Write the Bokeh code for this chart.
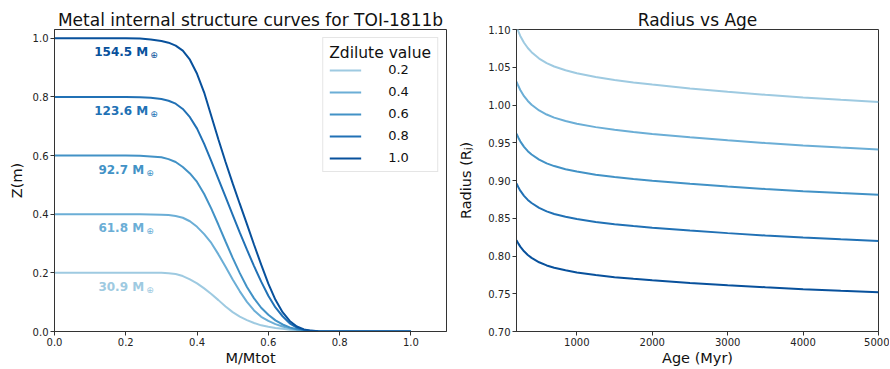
from bokeh.plotting import figure
from bokeh.layouts import row
from bokeh.models import Range1d, FixedTicker, NumeralTickFormatter, Legend, LegendItem
from bokeh.core.properties import value
from bokeh.embed import file_html
from bokeh.resources import INLINE

# ---------------- data ----------------
zdil_values = ["0.2", "0.4", "0.6", "0.8", "1.0"]
zdil_levels = [0.2, 0.4, 0.6, 0.8, 1.0]
colors = ["#9ecae1", "#6baed6", "#4292c6", "#2171b5", "#08519c"]
mass_labels = ["30.9", "61.8", "92.7", "123.6", "154.5"]

m_grid = [0.0, 0.20, 0.24, 0.27, 0.30, 0.32, 0.34, 0.36, 0.38, 0.40, 0.42, 0.44,
          0.46, 0.48, 0.50, 0.52, 0.54, 0.56, 0.58, 0.60, 0.62, 0.64, 0.66, 0.68,
          0.70, 0.72, 0.74, 0.77, 0.80, 1.0]
z_02 = [0.2, 0.2, 0.2, 0.2, 0.2, 0.199, 0.196, 0.189, 0.178, 0.164, 0.147, 0.128,
        0.107, 0.085, 0.066, 0.051, 0.039, 0.029, 0.021, 0.016, 0.012, 0.009, 0.006, 0.004,
        0.002, 0.001, 0.0, 0.0, 0.0, 0.0]
z_04 = [0.4, 0.4, 0.4, 0.399, 0.398, 0.397, 0.394, 0.388, 0.376, 0.357, 0.332, 0.302,
        0.263, 0.221, 0.177, 0.137, 0.101, 0.072, 0.050, 0.036, 0.025, 0.017, 0.011, 0.006,
        0.003, 0.001, 0.0, 0.0, 0.0, 0.0]
z_06 = [0.6, 0.6, 0.599, 0.597, 0.594, 0.588, 0.578, 0.561, 0.539, 0.510, 0.469, 0.419,
        0.364, 0.307, 0.251, 0.199, 0.152, 0.113, 0.081, 0.057, 0.038, 0.024, 0.014, 0.008,
        0.004, 0.002, 0.001, 0.0, 0.0, 0.0]
z_08 = [0.8, 0.8, 0.799, 0.797, 0.793, 0.787, 0.777, 0.759, 0.731, 0.692, 0.640, 0.581,
        0.520, 0.459, 0.398, 0.337, 0.279, 0.223, 0.170, 0.122, 0.082, 0.052, 0.028, 0.013,
        0.005, 0.002, 0.001, 0.0, 0.0, 0.0]
z_10 = [1.0, 1.0, 0.999, 0.996, 0.991, 0.985, 0.975, 0.958, 0.927, 0.879, 0.815, 0.735,
        0.655, 0.578, 0.505, 0.435, 0.366, 0.296, 0.228, 0.163, 0.108, 0.066, 0.036, 0.017,
        0.007, 0.003, 0.001, 0.0, 0.0, 0.0]
z_curves = [z_02, z_04, z_06, z_08, z_10]

ages = [200, 225, 250, 300, 350, 400, 500, 600, 700, 850, 1000, 1250, 1500, 1750, 2000,
        2500, 3000, 3500, 4000, 4500, 5000]
r_02 = [1.104, 1.0974, 1.0915, 1.0825, 1.0755, 1.0700, 1.0615, 1.0555, 1.0510, 1.0460, 1.0420,
        1.0370, 1.0330, 1.0298, 1.0270, 1.0220, 1.0175, 1.0135, 1.0100, 1.0069, 1.0040]
r_04 = [1.031, 1.0251, 1.0198, 1.0117, 1.0054, 1.0004, 0.9928, 0.9874, 0.9833, 0.9788, 0.9752,
        0.9707, 0.9671, 0.9642, 0.9617, 0.9572, 0.9532, 0.9496, 0.9464, 0.9436, 0.9410]
r_06 = [0.962, 0.9567, 0.9519, 0.9446, 0.9389, 0.9345, 0.9276, 0.9227, 0.9191, 0.9150, 0.9118,
        0.9077, 0.9045, 0.9019, 0.8996, 0.8956, 0.8919, 0.8887, 0.8859, 0.8833, 0.8810]
r_08 = [0.896, 0.8910, 0.8865, 0.8797, 0.8743, 0.8702, 0.8637, 0.8591, 0.8557, 0.8519, 0.8489,
        0.8451, 0.8420, 0.8396, 0.8375, 0.8337, 0.8303, 0.8272, 0.8246, 0.8222, 0.8200]
r_10 = [0.821, 0.8164, 0.8124, 0.8062, 0.8013, 0.7975, 0.7917, 0.7875, 0.7844, 0.7810, 0.7782,
        0.7748, 0.7720, 0.7698, 0.7679, 0.7644, 0.7613, 0.7586, 0.7561, 0.7540, 0.7520]
r_curves = [r_02, r_04, r_06, r_08, r_10]

left_xticks = [0.0, 0.2, 0.4, 0.6, 0.8, 1.0]
left_yticks = [0.0, 0.2, 0.4, 0.6, 0.8, 1.0]
right_xticks = [1000, 2000, 3000, 4000, 5000]
right_yticks = [0.70, 0.75, 0.80, 0.85, 0.90, 0.95, 1.00, 1.05, 1.10]

FONT = "DejaVu Sans"
AX = "#333333"


def style(p):
    p.xgrid.visible = False
    p.ygrid.visible = False
    p.outline_line_color = AX
    p.outline_line_width = 1
    p.outline_line_alpha = 1
    p.background_fill_color = "white"
    p.border_fill_color = "white"
    p.title.text_font = FONT
    p.title.text_font_size = "17px"
    p.title.text_font_style = "normal"
    p.title.align = "center"
    p.title.text_color = "#111111"
    p.title.standoff = 0
    p.title.offset = 0
    for ax in (p.xaxis[0], p.yaxis[0]):
        ax.axis_line_color = AX
        ax.major_tick_line_color = AX
        ax.major_tick_out = 4
        ax.major_tick_in = 0
        ax.minor_tick_line_color = None
        ax.major_label_text_font = FONT
        ax.major_label_text_font_size = "10px"
        ax.major_label_text_color = "#222222"
        ax.major_label_standoff = 2
        ax.axis_label_text_font = FONT
        ax.axis_label_text_font_size = "14.5px"
        ax.axis_label_text_font_style = "normal"
        ax.axis_label_text_color = "#111111"


H = 368

# ---------------- left figure ----------------
p1 = figure(width=455, height=H, output_backend="svg", toolbar_location=None,
            x_range=Range1d(0, 1.1), y_range=Range1d(0, 1.03),
            title="Metal internal structure curves for TOI-1811b",
            min_border_left=54, min_border_right=9, min_border_top=29, min_border_bottom=37)
style(p1)
p1.xaxis.axis_label = "M/Mtot"
p1.yaxis.axis_label = "Z(m)"
p1.xaxis.ticker = FixedTicker(ticks=left_xticks)
p1.yaxis.ticker = FixedTicker(ticks=left_yticks)
p1.xaxis.formatter = NumeralTickFormatter(format="0.0")
p1.yaxis.formatter = NumeralTickFormatter(format="0.0")
p1.xaxis.axis_label_standoff = 1
p1.yaxis.axis_label_standoff = 5

items = []
for lab, z, c in zip(zdil_values, z_curves, colors):
    r = p1.line(m_grid, z, line_color=c, line_width=2)
    items.append(LegendItem(label=lab, renderers=[r]))

# mass annotations ("xxx M" bold + small subscript earth symbol)
ADV = {"d": 0.696, ".": 0.380}
for lev, lab, c in zip(zdil_levels, mass_labels, colors):
    main = lab + " M"
    w = 12 * (sum(ADV["d"] if ch.isdigit() else ADV["."] for ch in lab) + 0.348 + 0.995)
    total = w + 2 + 7
    p1.text(x=[0.2], y=[lev - 0.048], text=[main], text_color=c,
            text_font=value(FONT), text_font_size="12px", text_font_style="bold",
            text_align="left", text_baseline="middle", x_offset=-total / 2)
    p1.text(x=[0.2], y=[lev - 0.048], text=["\u2295"], text_color=c,
            text_font=value(FONT), text_font_size="9px",
            text_align="left", text_baseline="middle", x_offset=-total / 2 + w + 2,
            y_offset=3)

legend = Legend(items=items, location="top_right", title="Zdilute value",
                title_text_font=FONT, title_text_font_size="15.5px",
                title_text_font_style="normal", title_text_color="#111111",
                title_standoff=0,
                label_text_font=FONT, label_text_font_size="13px", label_text_color="#111111",
                glyph_width=32, glyph_height=14, label_height=14, spacing=7,
                label_standoff=27, padding=6, margin=8,
                border_line_color="#cccccc", border_line_width=1,
                background_fill_color="white", background_fill_alpha=0.8)
p1.add_layout(legend)

# ---------------- right figure ----------------
p2 = figure(width=434, height=H, output_backend="svg", toolbar_location=None,
            x_range=Range1d(200, 5000), y_range=Range1d(0.70, 1.10),
            title="Radius vs Age",
            min_border_left=57, min_border_right=11, min_border_top=28, min_border_bottom=37)
style(p2)
p2.xaxis.axis_label = "Age (Myr)"
p2.yaxis.axis_label = "Radius (R\u2C7C)"
p2.xaxis.ticker = FixedTicker(ticks=right_xticks)
p2.yaxis.ticker = FixedTicker(ticks=right_yticks)
p2.yaxis.formatter = NumeralTickFormatter(format="0.00")
p2.xaxis.axis_label_standoff = 1
p2.yaxis.axis_label_standoff = 11

for r_vals, c in zip(r_curves, colors):
    p2.line(ages, r_vals, line_color=c, line_width=2)

layout = row(p1, p2)
open("out.html", "w").write(file_html(layout, INLINE))
